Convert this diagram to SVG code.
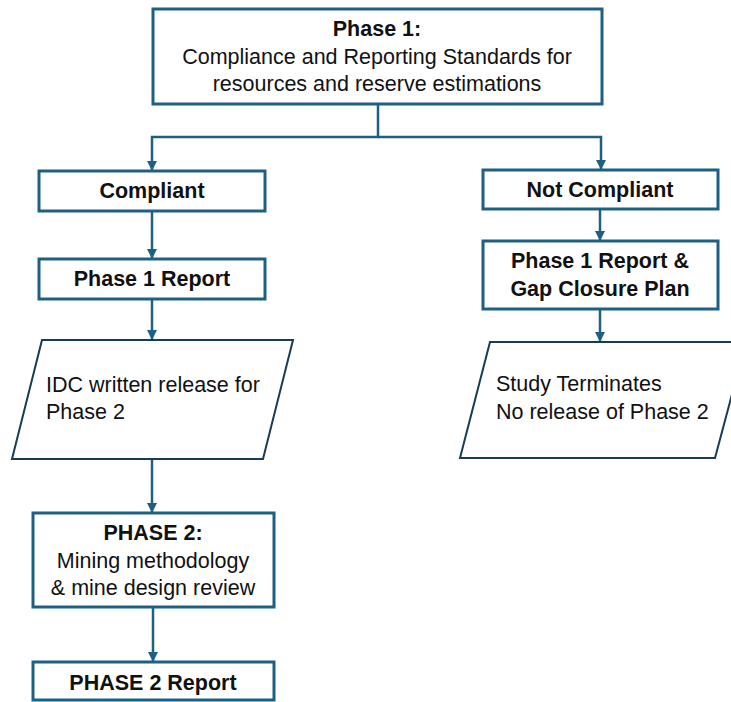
<svg xmlns="http://www.w3.org/2000/svg" width="731" height="702" viewBox="0 0 731 702">
<style>
.box{fill:#fff;stroke:#1d6083;stroke-width:3}
.para{fill:#fff;stroke:#173d56;stroke-width:2}
.t{font-family:"Liberation Sans",Arial,sans-serif;font-size:21.5px;fill:#111}
.b{font-weight:bold}
.c{text-anchor:middle}
.ln{fill:none;stroke:#1d6083;stroke-width:2.5}
</style>
<defs>
<marker id="ah" viewBox="0 0 10 10" refX="9" refY="5" markerWidth="4" markerHeight="4" orient="auto" markerUnits="strokeWidth">
<path d="M0,0 L10,5 L0,10 z" fill="#1d6083"/>
</marker>
</defs>
<rect width="731" height="702" fill="#fff"/>
<g id="connectors">
<path class="ln" d="M378,104 V137 H152 V170" marker-end="url(#ah)"/>
<path class="ln" d="M378,137 H601 V169" marker-end="url(#ah)"/>
<path class="ln" d="M152,211 V258" marker-end="url(#ah)"/>
<path class="ln" d="M152,299 V339" marker-end="url(#ah)"/>
<path class="ln" d="M152,459 V512" marker-end="url(#ah)"/>
<path class="ln" d="M153,607 V661" marker-end="url(#ah)"/>
<path class="ln" d="M600,209 V240" marker-end="url(#ah)"/>
<path class="ln" d="M600,309 V341" marker-end="url(#ah)"/>
</g>
<g id="phase1">
<rect class="box" x="153" y="9" width="449" height="95"/>
<text class="t b c" x="377" y="36">Phase 1:</text>
<text class="t c" x="377" y="64">Compliance and Reporting Standards for</text>
<text class="t c" x="377" y="91">resources and reserve estimations</text>
</g>
<g id="compliant">
<rect class="box" x="39" y="171" width="226" height="40"/>
<text class="t b c" x="152" y="198">Compliant</text>
</g>
<g id="phase1report">
<rect class="box" x="39" y="259" width="226" height="40"/>
<text class="t b c" x="152" y="286">Phase 1 Report</text>
</g>
<g id="idcrelease">
<polygon class="para" points="42,340 293,340 263,459 12,459"/>
<text class="t" x="46" y="392">IDC written release for</text>
<text class="t" x="46" y="419">Phase 2</text>
</g>
<g id="phase2">
<rect class="box" x="33" y="513" width="241" height="94"/>
<text class="t b c" x="153" y="540">PHASE 2:</text>
<text class="t c" x="153" y="568">Mining methodology</text>
<text class="t c" x="153" y="595">&amp; mine design review</text>
</g>
<g id="phase2report">
<rect class="box" x="33" y="662" width="241" height="38"/>
<text class="t b c" x="153" y="690">PHASE 2 Report</text>
</g>
<g id="notcompliant">
<rect class="box" x="483" y="170" width="235" height="39"/>
<text class="t b c" x="600" y="197">Not Compliant</text>
</g>
<g id="gapplan">
<rect class="box" x="483" y="241" width="235" height="68"/>
<text class="t b c" x="600" y="268">Phase 1 Report &amp;</text>
<text class="t b c" x="600" y="296">Gap Closure Plan</text>
</g>
<g id="terminates">
<polygon class="para" points="490,342 746,342 715,458 460,458"/>
<text class="t" x="496" y="391">Study Terminates</text>
<text class="t" x="496" y="419">No release of Phase 2</text>
</g>
</svg>
